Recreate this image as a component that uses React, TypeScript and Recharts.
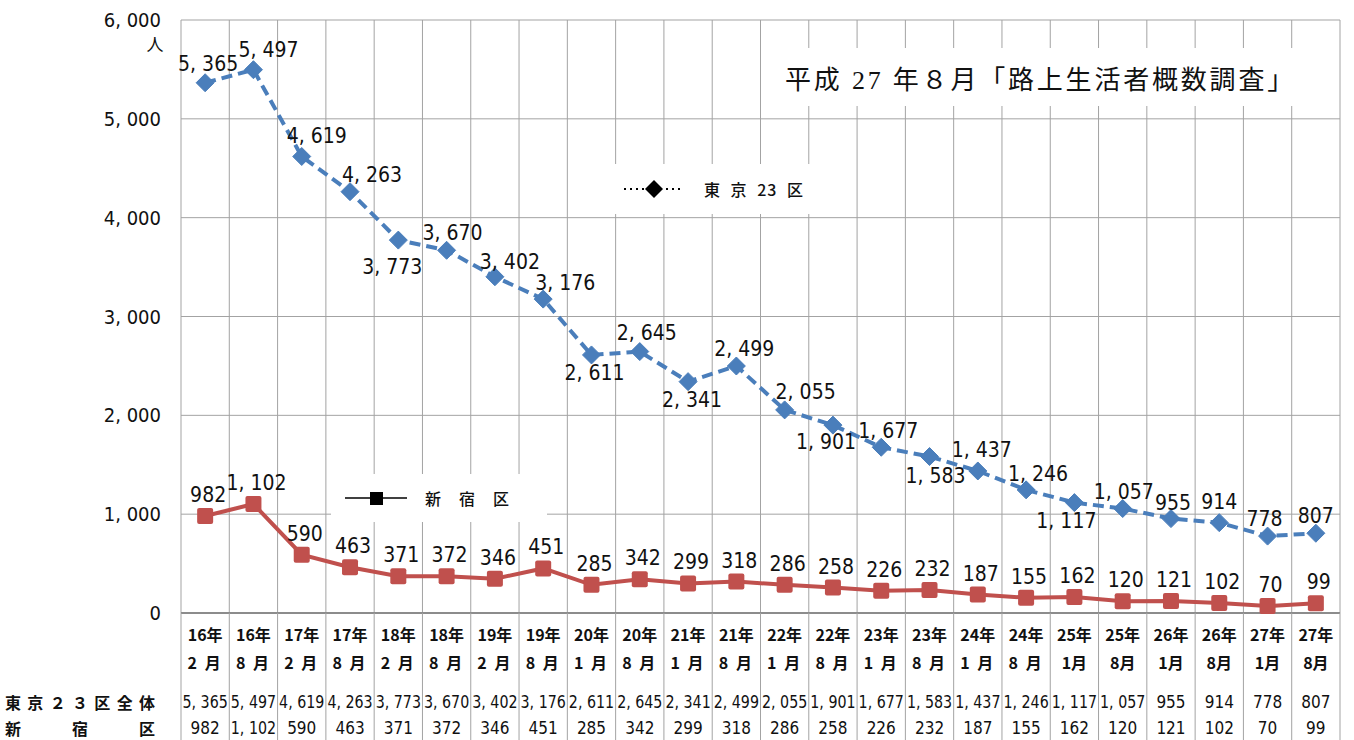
import { LineChart, Line, XAxis, YAxis, CartesianGrid, LabelList } from "recharts";

const years = [
  "16年", "16年", "17年", "17年", "18年", "18年", "19年", "19年", "20年", "20年", "21年", "21年",
  "22年", "22年", "23年", "23年", "24年", "24年", "25年", "25年", "26年", "26年", "27年", "27年",
];
const months = [
  "2 月", "8 月", "2 月", "8 月", "2 月", "8 月", "2 月", "8 月", "1 月", "8 月", "1 月", "8 月",
  "1 月", "8 月", "1 月", "8 月", "1 月", "8 月", "1月", "8月", "1月", "8月", "1月", "8月",
];
const tokyo23 = [
  5365, 5497, 4619, 4263, 3773, 3670, 3402, 3176, 2611, 2645, 2341, 2499,
  2055, 1901, 1677, 1583, 1437, 1246, 1117, 1057, 955, 914, 778, 807,
];
const shinjuku = [
  982, 1102, 590, 463, 371, 372, 346, 451, 285, 342, 299, 318,
  286, 258, 226, 232, 187, 155, 162, 120, 121, 102, 70, 99,
];
const yTicks = [0, 1000, 2000, 3000, 4000, 5000, 6000];

// where each Tokyo label sits relative to its marker (dx, dy), tuned by eye
const tokyoLabelOffset: [number, number][] = [
  [3, -19], [15, -20], [15, -20], [22, -17], [-6, 27], [6, -17], [15, -15], [22, -16],
  [3, 18], [7, -19], [4, 18], [8, -17], [21, -18], [-7, 17], [7, -16], [6, 19],
  [4, -21], [12, -16], [-8, 18], [1, -17], [2, -16], [0, -21], [-3, -17], [0, -17],
];

const data = years.map((y, i) => ({
  key: `${y}${months[i]}`,
  tokyo: tokyo23[i],
  shinjuku: shinjuku[i],
}));

const W = 1354;
const H = 740;
const PLOT_LEFT = 181;
const PLOT_RIGHT = 1340;
const PLOT_TOP = 20;
const PLOT_BOTTOM = 613;
const COL_W = (PLOT_RIGHT - PLOT_LEFT) / years.length;

const BLUE = "#4A7EBB";
const RED = "#C0504D";
const GRID = "#a3a3a3";
const NUM_FONT = '"DejaVu Sans Condensed", "Liberation Sans Narrow", sans-serif';
const JP_FONT = '"Noto Sans CJK JP", sans-serif';

const fmt = (n: number) =>
  n >= 1000 ? `${Math.floor(n / 1000)}, ${String(n % 1000).padStart(3, "0")}` : String(n);

function Diamond(props: any) {
  const { cx, cy } = props;
  if (cx == null || cy == null) return null;
  const r = 9;
  return (
    <path
      d={`M${cx},${cy - r} L${cx + r},${cy} L${cx},${cy + r} L${cx - r},${cy} Z`}
      fill={BLUE}
      stroke={BLUE}
      strokeWidth={1}
    />
  );
}

function Square(props: any) {
  const { cx, cy } = props;
  if (cx == null || cy == null) return null;
  const s = 16;
  return <rect x={cx - s / 2} y={cy - s / 2} width={s} height={s} rx={2} fill={RED} />;
}

function TokyoLabel(props: any) {
  const { x, y, value, index } = props;
  const [dx, dy] = tokyoLabelOffset[index] || [0, -18];
  return (
    <text
      x={x + dx}
      y={y + dy}
      textAnchor="middle"
      dominantBaseline="central"
      fontSize={21}
      fontWeight={500}
      fontFamily={NUM_FONT}
      fill="#111"
    >
      {fmt(Number(value))}
    </text>
  );
}

function ShinjukuLabel(props: any) {
  const { x, y, value } = props;
  return (
    <text
      x={x + 3}
      y={y - 21}
      textAnchor="middle"
      dominantBaseline="central"
      fontSize={21}
      fontWeight={500}
      fontFamily={NUM_FONT}
      fill="#111"
    >
      {fmt(Number(value))}
    </text>
  );
}

function YTick(props: any) {
  const { y, payload } = props;
  const v = Number(payload.value);
  return (
    <g>
      <text
        x={161}
        y={y}
        textAnchor="end"
        dominantBaseline="central"
        fontSize={20}
        fontFamily={NUM_FONT}
        fill="#111"
      >
        {fmt(v)}
      </text>
      {v === 6000 && (
        <text x={155} y={43} textAnchor="middle" dominantBaseline="central" fontSize={17} fontFamily={JP_FONT} fill="#111">
          人
        </text>
      )}
    </g>
  );
}

// the data table under the plot is drawn as the x-axis tick
function TableTick(props: any) {
  const { x } = props;
  const i = props.index ?? props.payload?.index ?? 0;
  const left = x - COL_W / 2;
  const cellText = (txt: string, y: number, bold: boolean, font: string, size: number, spacing = 0) => (
    <text
      x={x}
      y={y}
      textAnchor="middle"
      dominantBaseline="central"
      fontSize={size}
      fontWeight={bold ? "bold" : "normal"}
      fontFamily={font}
      letterSpacing={spacing}
      fill="#111"
    >
      {txt}
    </text>
  );
  const numCell = (n: number, y: number) => (
    <text
      x={n >= 1000 ? left + 1.5 : x}
      y={y}
      textAnchor={n >= 1000 ? "start" : "middle"}
      dominantBaseline="central"
      fontSize={17}
      fontFamily={NUM_FONT}
      fill="#111"
      {...(n >= 1000 ? { textLength: COL_W - 3, lengthAdjust: "spacingAndGlyphs" } : {})}
    >
      {fmt(n)}
    </text>
  );
  return (
    <g>
      <line x1={left} x2={left} y1={PLOT_BOTTOM} y2={H} stroke={GRID} />
      {i === years.length - 1 && (
        <line x1={left + COL_W} x2={left + COL_W} y1={PLOT_BOTTOM} y2={H} stroke={GRID} />
      )}
      {cellText(years[i], 634, true, JP_FONT, 16)}
      {cellText(months[i], 662, true, JP_FONT, 16, months[i].length > 2 ? 2 : 0)}
      {numCell(tokyo23[i], 702)}
      {numCell(shinjuku[i], 728)}
      {i === 0 && (
        <g fontFamily={JP_FONT} fontWeight="bold" fontSize={16} fill="#111">
          <text x={5} y={702} dominantBaseline="central" textLength={150} lengthAdjust="spacing">
            東京２３区全体
          </text>
          <text x={5} y={728} dominantBaseline="central" textLength={150} lengthAdjust="spacing">
            新宿区
          </text>
        </g>
      )}
    </g>
  );
}

const boxStyle: React.CSSProperties = {
  position: "absolute",
  background: "#fff",
  display: "flex",
  alignItems: "center",
  color: "#111",
};

export default function App() {
  return (
    <div style={{ position: "absolute", left: 0, top: 0, width: W, height: H, background: "#fff" }}>
      <LineChart
        width={W}
        height={H}
        data={data}
        margin={{ top: PLOT_TOP, right: W - PLOT_RIGHT, bottom: 0, left: 0 }}
      >
        <CartesianGrid
          stroke={GRID}
          strokeWidth={1}
          verticalCoordinatesGenerator={({ offset }: any) =>
            Array.from({ length: years.length + 1 }, (_, i) => offset.left + (i * offset.width) / years.length)
          }
        />
        <XAxis
          dataKey="key"
          height={H - PLOT_BOTTOM}
          interval={0}
          tickLine={false}
          axisLine={{ stroke: "#8c8c8c", strokeWidth: 2 }}
          padding={{ left: COL_W / 2, right: COL_W / 2 }}
          tick={<TableTick />}
        />
        <YAxis
          width={PLOT_LEFT}
          domain={[0, 6000]}
          ticks={yTicks}
          interval={0}
          axisLine={false}
          tickLine={false}
          tick={<YTick />}
        />
        <Line
          dataKey="tokyo"
          stroke={BLUE}
          strokeWidth={4}
          strokeDasharray="11 6"
          dot={<Diamond />}
          activeDot={false}
          isAnimationActive={false}
        >
          <LabelList dataKey="tokyo" content={<TokyoLabel />} />
        </Line>
        <Line
          dataKey="shinjuku"
          stroke={RED}
          strokeWidth={4}
          dot={<Square />}
          activeDot={false}
          isAnimationActive={false}
        >
          <LabelList dataKey="shinjuku" content={<ShinjukuLabel />} />
        </Line>
      </LineChart>

      {/* survey title */}
      <div style={{ ...boxStyle, left: 772, top: 48, width: 560, height: 58, justifyContent: "flex-start" }}>
        <span
          style={{
            marginLeft: 13,
            fontSize: 26,
            letterSpacing: 2.8,
            fontFamily: '"Liberation Serif", "Noto Sans CJK JP", serif',
            whiteSpace: "nowrap",
          }}
        >
          平成 27 年８月「路上生活者概数調査」
        </span>
      </div>

      {/* legend: Tokyo 23 wards */}
      <div style={{ ...boxStyle, left: 592, top: 164, width: 246, height: 50 }}>
        <svg width={70} height={20} style={{ marginLeft: 30 }}>
          <line x1={2} x2={62} y1={10} y2={10} stroke="#000" strokeWidth={2} strokeDasharray="2 4" />
          <path d="M32,1 L41,10 L32,19 L23,10 Z" fill="#000" />
        </svg>
        <span
          style={{
            marginLeft: 12,
            fontSize: 16,
            fontFamily: JP_FONT,
            fontWeight: 500,
            letterSpacing: 1,
            wordSpacing: 5,
            whiteSpace: "pre",
          }}
        >
          東 京 23 区
        </span>
      </div>

      {/* legend: Shinjuku */}
      <div style={{ ...boxStyle, left: 331, top: 474, width: 216, height: 48 }}>
        <svg width={64} height={20} style={{ marginLeft: 14 }}>
          <line x1={0} x2={62} y1={10} y2={10} stroke="#000" strokeWidth={1.5} />
          <rect x={25} y={4} width={13} height={13} fill="#000" />
        </svg>
        <span style={{ marginLeft: 16, fontSize: 16, fontFamily: JP_FONT, fontWeight: 500, letterSpacing: 18, whiteSpace: "nowrap" }}>
          新宿区
        </span>
      </div>
    </div>
  );
}
